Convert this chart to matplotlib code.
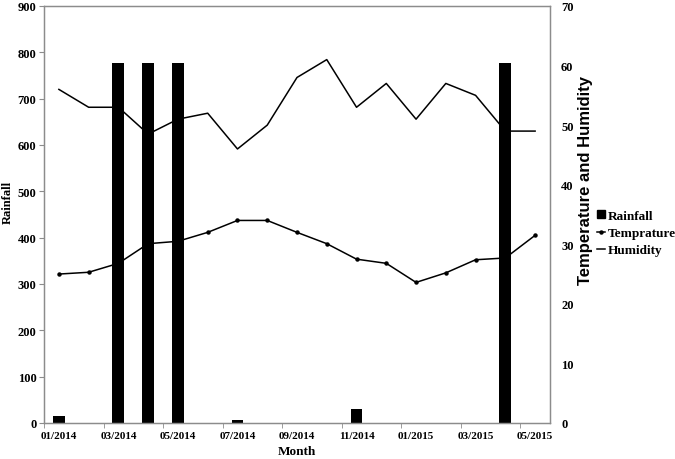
import matplotlib.pyplot as plt
import numpy as np
from matplotlib.lines import Line2D
from matplotlib.patches import Patch

# Data
months = ["01/2014", "02/2014", "03/2014", "04/2014", "05/2014", "06/2014",
          "07/2014", "08/2014", "09/2014", "10/2014", "11/2014", "12/2014",
          "01/2015", "02/2015", "03/2015", "04/2015", "05/2015"]
rainfall = [15, 0, 777, 777, 777, 0, 6, 0, 0, 0, 30, 0, 0, 0, 0, 777, 0]
temperature = [25, 25.3, 26.8, 30.1, 30.5, 32, 34, 34, 32, 30.1, 27.5,
               26.8, 23.6, 25.2, 27.4, 27.7, 31.5]
humidity = [56, 53, 53, 48.5, 51, 52, 46, 50, 58, 61, 53, 57, 51, 57, 55, 49, 49]

serif = "Liberation Serif"
sans = "Liberation Sans"
frame = "#8c8c8c"

fig = plt.figure(figsize=(6.75, 4.6), dpi=100)
ax = fig.add_axes([0.0652, 0.0783, 0.7496, 0.9065])
ax2 = ax.twinx()

x = np.arange(len(months))
ax.bar(x, rainfall, width=0.4, color="black", zorder=1)
ax2.plot(x, temperature, color="black", lw=1.1, marker="o", ms=2.2)
ax2.plot(x, humidity, color="black", lw=1.1)

ax.set_xlim(-0.5, len(months) - 0.5)
ax.set_ylim(0, 900)
ax2.set_ylim(0, 70)
ax.set_yticks(np.arange(0, 901, 100))
ax2.set_yticks(np.arange(0, 71, 10))

# month labels every 2 categories, tick marks on category boundaries
ax.set_xticks(x[::2])
ax.set_xticklabels(months[::2])
ax.set_xticks(np.arange(-0.5, len(months) - 1, 2), minor=True)
ax.tick_params(axis="x", which="major", length=0, pad=6)
ax.tick_params(axis="x", which="minor", length=3.5, color=frame, direction="out")
ax.tick_params(axis="y", length=3.5, color=frame, pad=2)
ax2.tick_params(axis="y", length=0, pad=8)

for a in (ax, ax2):
    for s in a.spines.values():
        s.set_color(frame)
        s.set_linewidth(0.9)
    for lab in a.get_xticklabels():
        lab.set_fontfamily(serif)
        lab.set_fontweight("bold")
        lab.set_fontsize(8)
    for lab in a.get_yticklabels():
        lab.set_fontfamily(serif)
        lab.set_fontweight("bold")
        lab.set_fontsize(9)

ax.set_xlabel("Month", fontfamily=serif, fontweight="bold", fontsize=9.5)
ax.xaxis.set_label_coords(0.5, -0.052)
ax.set_ylabel("Rainfall", fontfamily=serif, fontweight="bold", fontsize=9)
ax.yaxis.set_label_coords(-0.06, 0.532)
ax2.set_ylabel("Temperature and Humidity", fontfamily=sans, fontweight="bold",
               fontsize=12, rotation=90)
ax2.yaxis.set_label_coords(1.055, 0.585)

handles = [
    Patch(facecolor="black", edgecolor="black"),
    Line2D([], [], color="black", lw=1.1, marker="o", ms=2.2),
    Line2D([], [], color="black", lw=1.1),
]
fig.legend(handles, ["Rainfall", "Temprature", "Humidity"],
           loc="upper left", bbox_to_anchor=(590 / 675, 1 - 204 / 460),
           frameon=False, handlelength=0.65, handleheight=0.5,
           handletextpad=0.2, labelspacing=0.4, borderpad=0,
           prop={"family": serif, "weight": "bold", "size": 9.5})

fig.savefig("out.png", dpi=100)
